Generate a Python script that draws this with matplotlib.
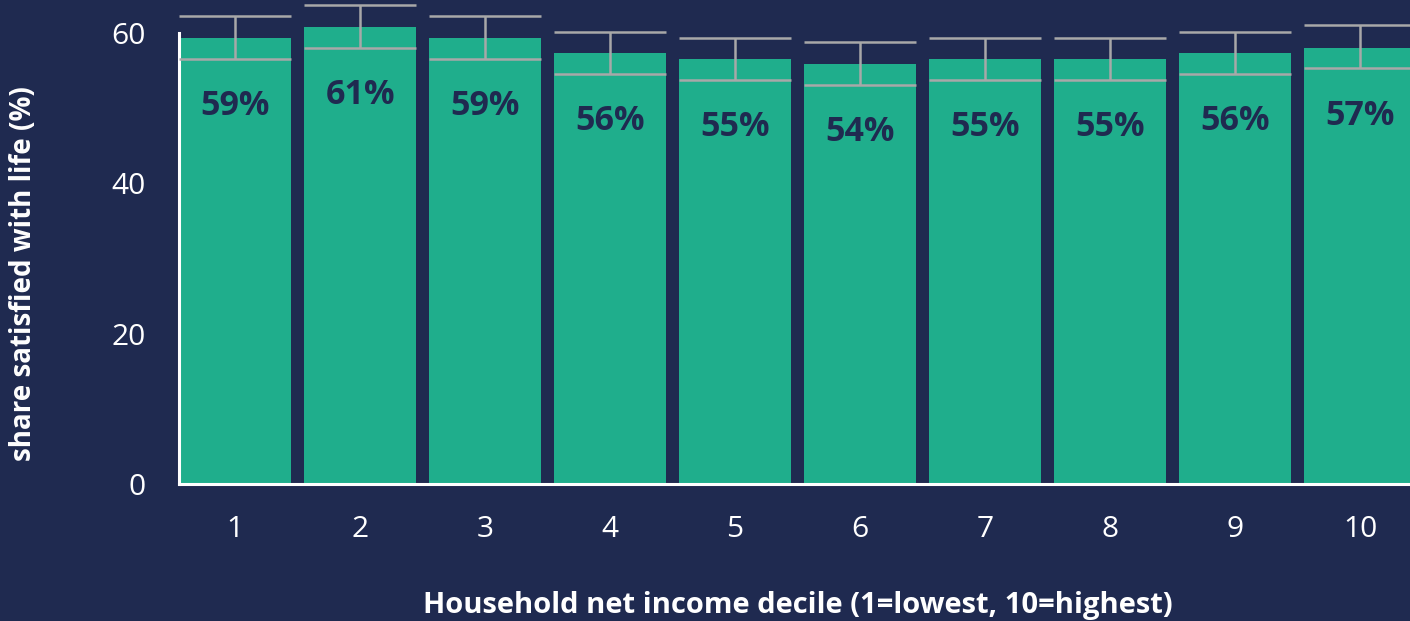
import matplotlib
matplotlib.use('Agg')
import matplotlib.pyplot as plt
import numpy as np

deciles = ["1", "2", "3", "4", "5", "6", "7", "8", "9", "10"]
share = [59.3, 60.8, 59.3, 57.3, 56.5, 55.9, 56.5, 56.5, 57.3, 58.0]
err_low = [56.5, 58.0, 56.5, 54.5, 53.7, 53.1, 53.7, 53.7, 54.5, 55.3]
err_high = [62.3, 63.7, 62.3, 60.2, 59.4, 58.8, 59.4, 59.4, 60.2, 61.1]
bar_labels = ["59%", "61%", "59%", "56%", "55%", "54%", "55%", "55%", "56%", "57%"]

bg = "#1f2a50"
green = "#1fae8c"
grey = "#a8a8a8"

plt.rcParams['font.family'] = ['Open Sans', 'DejaVu Sans']

fig = plt.figure(figsize=(14.1, 6.21), dpi=100, facecolor=bg)
ax = fig.add_axes([0.127, 0.2206, 0.873, 0.7794])
ax.set_facecolor(bg)

x = np.arange(1, len(deciles) + 1)
ax.bar(x, share, width=0.9, color=green, zorder=2)

# error bars: vertical line plus full-width caps
ax.vlines(x, err_low, err_high, color=grey, linewidth=1.8, zorder=3)
ax.hlines(err_low, x - 0.45, x + 0.45, color=grey, linewidth=1.8, zorder=3)
ax.hlines(err_high, x - 0.45, x + 0.45, color=grey, linewidth=1.8, zorder=3)

for xi, s, lab in zip(x, share, bar_labels):
    ax.text(xi, s - 9.0, lab, ha='center', va='center', fontsize=24.5,
            fontweight='bold', color=bg, zorder=4)

ax.set_xlim(0.552, 10.4)
ax.set_ylim(0, 64.4)
ax.set_xticks(x)
ax.set_xticklabels(deciles)
ax.set_yticks([0, 20, 40, 60])

for side in ['top', 'right']:
    ax.spines[side].set_visible(False)
for side in ['left', 'bottom']:
    ax.spines[side].set_color('white')
    ax.spines[side].set_linewidth(2.2)
ax.spines['left'].set_bounds(0, 60)

ax.tick_params(axis='both', length=0, labelsize=21.5, colors='white')
ax.tick_params(axis='x', pad=22)
ax.tick_params(axis='y', pad=24)

ax.set_ylabel("share satisfied with life (%)", fontsize=20, fontweight='bold',
              color='white', va='center')
ax.yaxis.set_label_coords(-0.1267, 0.434)
ax.set_xlabel("Household net income decile (1=lowest, 10=highest)", fontsize=21,
              fontweight='bold', color='white', va='center')
ax.xaxis.set_label_coords(0.503, -0.252)

fig.savefig("out.png", dpi=100, facecolor=bg)
